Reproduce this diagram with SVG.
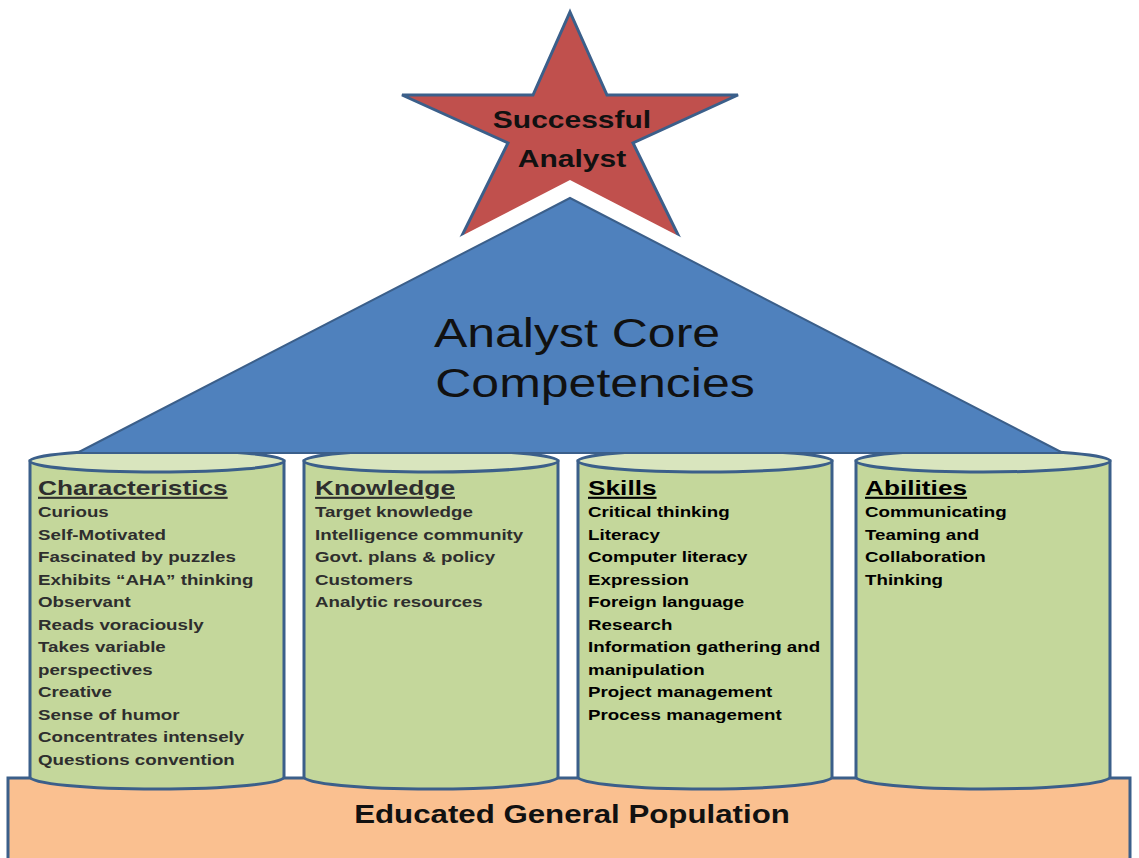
<svg xmlns="http://www.w3.org/2000/svg" width="1139" height="858" viewBox="0 0 1139 858">
<style>
.cyl{fill:#C4D79B;stroke:#3B5F8A;stroke-width:3}
.cyltop{fill:#D9E5BE;stroke:#3B5F8A;stroke-width:3}
.hd{font-family:"Liberation Sans",Arial,sans-serif;font-weight:bold;font-size:21px;text-decoration:underline}
.it{font-family:"Liberation Sans",Arial,sans-serif;font-weight:bold;font-size:15px}
.g1{fill:#2e2e2e}
.g2{fill:#000}
.big{font-family:"Liberation Sans",Arial,sans-serif;font-size:40px;fill:#111;text-anchor:middle}
.st{font-family:"Liberation Sans",Arial,sans-serif;font-weight:bold;font-size:24px;fill:#111;text-anchor:middle}
.base{font-family:"Liberation Sans",Arial,sans-serif;font-weight:bold;font-size:25px;fill:#111;text-anchor:middle}
</style>
<rect width="1139" height="858" fill="#fff"/>
<g id="star">
<polygon points="570,12 607,95 738,95 633,143 710,300 570,230 430,300 508,143 402,95 533,95" fill="#C0504D" stroke="#3B5F8A" stroke-width="3" stroke-linejoin="miter"/>
<text class="st" transform="translate(572,128) scale(1.25,1)">Successful</text>
<text class="st" transform="translate(572,167) scale(1.25,1)">Analyst</text>
</g>
<g id="base">
<rect x="8" y="778" width="1122" height="95" fill="#FAC090" stroke="#3B5F8A" stroke-width="3"/>
<text class="base" transform="translate(572,823) scale(1.25,1)">Educated General Population</text>
</g>
<g id="col-characteristics">
<path class="cyl" d="M30,461 L30,777 A127,12 0 0 0 284,777 L284,461 Z"/>
<ellipse class="cyltop" cx="157" cy="461" rx="127" ry="11"/>
<g class="g1" transform="translate(38,0) scale(1.25,1)">
<text class="hd" x="0" y="495">Characteristics</text>
<text class="it" x="0" y="517">Curious</text>
<text class="it" x="0" y="540">Self-Motivated</text>
<text class="it" x="0" y="562">Fascinated by puzzles</text>
<text class="it" x="0" y="585">Exhibits “AHA” thinking</text>
<text class="it" x="0" y="607">Observant</text>
<text class="it" x="0" y="630">Reads voraciously</text>
<text class="it" x="0" y="652">Takes variable</text>
<text class="it" x="0" y="675">perspectives</text>
<text class="it" x="0" y="697">Creative</text>
<text class="it" x="0" y="720">Sense of humor</text>
<text class="it" x="0" y="742">Concentrates intensely</text>
<text class="it" x="0" y="765">Questions convention</text>
</g>
</g>
<g id="col-knowledge">
<path class="cyl" d="M304,461 L304,777 A127,12 0 0 0 558,777 L558,461 Z"/>
<ellipse class="cyltop" cx="431" cy="461" rx="127" ry="11"/>
<g class="g1" transform="translate(315,0) scale(1.25,1)">
<text class="hd" x="0" y="495">Knowledge</text>
<text class="it" x="0" y="517">Target knowledge</text>
<text class="it" x="0" y="540">Intelligence community</text>
<text class="it" x="0" y="562">Govt. plans &amp; policy</text>
<text class="it" x="0" y="585">Customers</text>
<text class="it" x="0" y="607">Analytic resources</text>
</g>
</g>
<g id="col-skills">
<path class="cyl" d="M578,461 L578,777 A127,12 0 0 0 832,777 L832,461 Z"/>
<ellipse class="cyltop" cx="705" cy="461" rx="127" ry="11"/>
<g class="g2" transform="translate(588,0) scale(1.25,1)">
<text class="hd" x="0" y="495">Skills</text>
<text class="it" x="0" y="517">Critical thinking</text>
<text class="it" x="0" y="540">Literacy</text>
<text class="it" x="0" y="562">Computer literacy</text>
<text class="it" x="0" y="585">Expression</text>
<text class="it" x="0" y="607">Foreign language</text>
<text class="it" x="0" y="630">Research</text>
<text class="it" x="0" y="652">Information gathering and</text>
<text class="it" x="0" y="675">manipulation</text>
<text class="it" x="0" y="697">Project management</text>
<text class="it" x="0" y="720">Process management</text>
</g>
</g>
<g id="col-abilities">
<path class="cyl" d="M856,461 L856,777 A127,12 0 0 0 1110,777 L1110,461 Z"/>
<ellipse class="cyltop" cx="983" cy="461" rx="127" ry="11"/>
<g class="g2" transform="translate(865,0) scale(1.25,1)">
<text class="hd" x="0" y="495">Abilities</text>
<text class="it" x="0" y="517">Communicating</text>
<text class="it" x="0" y="540">Teaming and</text>
<text class="it" x="0" y="562">Collaboration</text>
<text class="it" x="0" y="585">Thinking</text>
</g>
</g>
<g id="core">
<polyline points="380,296 570,198 760,296" fill="none" stroke="#fff" stroke-width="32" stroke-linejoin="miter"/>
<polygon points="570,198 1063,453 77,453" fill="#4F81BD" stroke="#3B5F8A" stroke-width="2"/>
<text class="big" transform="translate(577,347) scale(1.25,1)">Analyst Core</text>
<text class="big" transform="translate(595,397) scale(1.25,1)">Competencies</text>
</g>
<g id="connectors"/>
</svg>
